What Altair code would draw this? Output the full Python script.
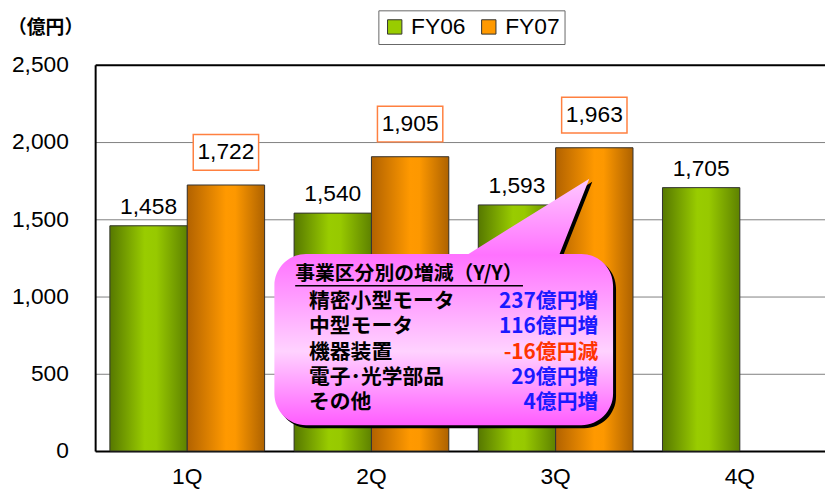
import altair as alt
import pandas as pd

# ---- data ----
quarters = ["1Q", "2Q", "3Q", "4Q"]
series = ["FY06", "FY07"]
fy06 = [1458, 1540, 1593, 1705]
fy07 = [1722, 1905, 1963, None]
y_ticks = [0, 500, 1000, 1500, 2000, 2500]
unit_label = "（億円）"

seg_title = "事業区分別の増減（Y/Y）"
seg_names = ["精密小型モータ", "中型モータ", "機器装置", "電子･光学部品", "その他"]
seg_changes = ["237億円増", "116億円増", "-16億円減", "29億円増", "4億円増"]
seg_signs = ["up", "up", "down", "up", "up"]

# ---- tables ----
rows = []
for q, a, b in zip(quarters, fy06, fy07):
    rows.append({"quarter": q, "series": "FY06", "value": a})
    if b is not None:
        rows.append({"quarter": q, "series": "FY07", "value": b})
df = pd.DataFrame(rows)

NUM_FONT = "Liberation Sans Narrow, Liberation Sans, Arial, sans-serif"
JP_FONT = "Noto Sans CJK JP"

green_grad = alt.Gradient(gradient="linear", x1=0, x2=1, y1=0, y2=0, stops=[
    alt.GradientStop(color="#567800", offset=0),
    alt.GradientStop(color="#99cc00", offset=0.45),
    alt.GradientStop(color="#97c900", offset=0.6),
    alt.GradientStop(color="#5e8200", offset=1)])
orange_grad = alt.Gradient(gradient="linear", x1=0, x2=1, y1=0, y2=0, stops=[
    alt.GradientStop(color="#b26200", offset=0),
    alt.GradientStop(color="#ff9900", offset=0.5),
    alt.GradientStop(color="#fd9800", offset=0.62),
    alt.GradientStop(color="#ae6200", offset=1)])
pink_grad = alt.Gradient(gradient="linear", x1=0, x2=0, y1=0, y2=1, stops=[
    alt.GradientStop(color="#ffc8ff", offset=0),
    alt.GradientStop(color="#ff72ff", offset=0.31),
    alt.GradientStop(color="#ffd2ff", offset=0.7),
    alt.GradientStop(color="#ff5cff", offset=1)])

x_enc = alt.X("quarter:N", sort=quarters,
              scale=alt.Scale(domain=quarters, range=[0, 744],
                              paddingInner=0.16, paddingOuter=0.08),
              axis=alt.Axis(title=None, ticks=False, labelAngle=0,
                            labelFont=NUM_FONT, labelFontSize=23,
                            labelColor="black", labelPadding=15,
                            domainColor="black", domainWidth=2, grid=False))
xo_enc = alt.XOffset("series:N", scale=alt.Scale(domain=series))
y_enc = alt.Y("value:Q", scale=alt.Scale(domain=[0, 2500], nice=False),
              axis=alt.Axis(title=None, values=y_ticks,
                            labelExpr="format(datum.value, ',')", ticks=False,
                            labelFont=NUM_FONT, labelFontSize=23,
                            labelColor="black", labelPadding=27,
                            domainColor="black", domainWidth=2, grid=True,
                            gridColor={"condition": {"test": "datum.value === 2500",
                                                     "value": "black"},
                                       "value": "#808080"},
                            gridWidth={"condition": {"test": "datum.value === 2500",
                                                     "value": 2},
                                       "value": 1}))

base = alt.Chart(df).encode(x=x_enc, xOffset=xo_enc, y=y_enc)

legend_bars = base.mark_bar().encode(
    color=alt.Color("series:N",
                    scale=alt.Scale(domain=series, range=["#99cc00", "#ff9900"]),
                    legend=alt.Legend(orient="none", legendX=286, legendY=-55,
                                      direction="horizontal", title=None,
                                      symbolType="square", symbolSize=210,
                                      symbolStrokeColor="#333", symbolStrokeWidth=1,
                                      symbolOpacity=1,
                                      labelFont=NUM_FONT, labelFontSize=23,
                                      labelColor="black", labelOffset=5,
                                      strokeColor="#666", fillColor="white",
                                      padding=5, columnPadding=12)))

bars06 = base.transform_filter(alt.datum.series == "FY06").mark_bar(
    fill=green_grad, stroke="#333", strokeWidth=1)
bars07 = base.transform_filter(alt.datum.series == "FY07").mark_bar(
    fill=orange_grad, stroke="#333", strokeWidth=1)

bg06 = base.transform_filter(alt.datum.series == "FY06").mark_bar(
    width=60, fill="white", yOffset=-8, y2Offset=-30).encode(y2=alt.Y2("value:Q"))
box07 = base.transform_filter(alt.datum.series == "FY07").mark_bar(
    width=66, fill="white", stroke="#ff8040", strokeWidth=1.5,
    yOffset=-15, y2Offset=-51).encode(y2=alt.Y2("value:Q"))

txt06 = base.transform_filter(alt.datum.series == "FY06").mark_text(
    dy=-19, baseline="middle", font=NUM_FONT, fontSize=23, color="black").encode(
    text=alt.Text("value:Q", format=","))
txt07 = base.transform_filter(alt.datum.series == "FY07").mark_text(
    dy=-33, baseline="middle", font=NUM_FONT, fontSize=23, color="black").encode(
    text=alt.Text("value:Q", format=","))

# ---- callout ----
callout_path = ("M 32 0 L 196 0 L 318 -76 L 288 0 L 310 0 "
                "A 32 32 0 0 1 342 32 L 342 141 A 32 32 0 0 1 310 173 "
                "L 32 173 A 32 32 0 0 1 0 141 L 0 32 A 32 32 0 0 1 32 0 Z")
one = pd.DataFrame({"k": [0]})
shadow = alt.Chart(one).mark_point(shape=callout_path, size=4, filled=True,
                                   fill="black", opacity=1, strokeWidth=0).encode(
    x=alt.value(184), y=alt.value(194))
bubble = alt.Chart(one).mark_point(shape=callout_path, size=4, filled=True,
                                   fill=pink_grad, opacity=1, strokeWidth=0).encode(
    x=alt.value(181), y=alt.value(191))

title_txt = alt.Chart(one).mark_text(align="left", baseline="middle", font=JP_FONT,
                                     fontSize=20, fontWeight="bold", color="black").encode(
    x=alt.value(202), y=alt.value(211), text=alt.value(seg_title))
underline = alt.Chart(one).mark_rule(color="black", strokeWidth=1.5).encode(
    x=alt.value(202), x2=alt.value(432), y=alt.value(223))

seg_df = pd.DataFrame({"name": seg_names, "change": seg_changes, "sign": seg_signs})
seg_df["row"] = range(len(seg_df))
seg_base = alt.Chart(seg_df).transform_calculate(py="240 + datum.row * 25.3")
seg_names_txt = seg_base.mark_text(align="left", baseline="middle", font=JP_FONT,
                                   fontSize=21, fontWeight="bold", color="black").encode(
    x=alt.value(216), y=alt.Y("py:Q", scale=None, axis=None), text="name:N")
seg_vals_txt = seg_base.mark_text(align="right", baseline="middle", font=JP_FONT,
                                  fontSize=21, fontWeight="bold").encode(
    x=alt.value(508), y=alt.Y("py:Q", scale=None, axis=None), text="change:N",
    color=alt.Color("sign:N", scale=alt.Scale(domain=["up", "down"],
                                              range=["#1a1aff", "#ff3300"]),
                    legend=None))

unit_txt = alt.Chart(one).mark_text(align="left", baseline="middle", font=JP_FONT,
                                    fontSize=19, fontWeight="bold", color="black").encode(
    x=alt.value(-88), y=alt.value(-37), text=alt.value(unit_label))

chart = alt.layer(
    legend_bars, bars06, bars07, bg06, box07, txt06, txt07,
    shadow, bubble, title_txt, underline, seg_names_txt, seg_vals_txt, unit_txt
).resolve_scale(color="independent").properties(
    width=736, height=390,
    autosize=alt.AutoSizeParams(type="none"),
    padding={"left": 88, "top": 55, "right": 1, "bottom": 38},
).configure_view(stroke=None)

chart.save("out.html", embed_options={"renderer": "svg", "actions": False})
